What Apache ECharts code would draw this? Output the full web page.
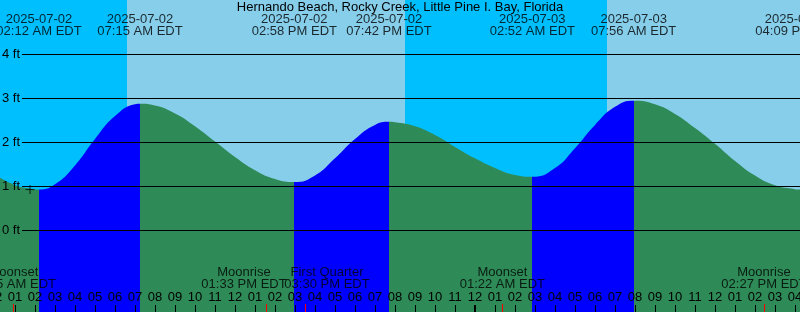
<!DOCTYPE html>
<html><head><meta charset="utf-8">
<script src="https://cdn.jsdelivr.net/npm/echarts@6/dist/echarts.min.js"></script>
<style>html,body{margin:0;padding:0;background:#fff}#c{width:800px;height:312px}</style>
</head><body><div id="c"></div>
<script>
// ---------- data ----------
const chartTitle = 'Hernando Beach, Rocky Creek, Little Pine I. Bay, Florida';
// hours since 2025-07-02 00:00 EDT, tide height (ft)
const tideHours = [0, 1, 2, 2.2, 3, 4, 5, 6, 7, 7.25, 8, 9, 10, 11, 12, 13, 14, 14.967, 16, 17, 18, 19, 19.7, 20, 21, 22, 23, 24, 25, 26, 26.867, 28, 29, 30, 31, 31.933, 33, 34, 35, 36, 37, 38, 39, 40, 40.15, 40.25];
const tideFeet  = [1.27, 1.03, 0.94, 0.93, 1.05, 1.48, 2.08, 2.60, 2.87, 2.88, 2.84, 2.66, 2.37, 2.02, 1.67, 1.37, 1.17, 1.10, 1.25, 1.64, 2.08, 2.40, 2.47, 2.46, 2.37, 2.17, 1.90, 1.64, 1.42, 1.26, 1.22, 1.42, 1.87, 2.40, 2.81, 2.95, 2.87, 2.65, 2.33, 1.97, 1.58, 1.25, 1.03, 0.94, 0.93, 0.93];
// tide extremes (low, high, low, ...)
const tideEventDates = ['2025-07-02', '2025-07-02', '2025-07-02', '2025-07-02', '2025-07-03', '2025-07-03', '2025-07-03'];
const tideEventTimes = ['02:12 AM', '07:15 AM', '02:58 PM', '07:42 PM', '02:52 AM', '07:56 AM', '04:09 PM'];
const tideEventDay   = [0, 0, 0, 0, 1, 1, 1];
// sunrise / sunset (daylight periods)
const sunTimes = ['06:36 AM', '08:30 PM', '06:36 AM'];
const sunDay   = [0, 0, 1];
// moon events
const moonNames = ['Moonset', 'Moonrise', 'First Quarter', 'Moonset', 'Moonrise'];
const moonTimes = ['12:55 AM', '01:33 PM', '03:30 PM', '01:22 AM', '02:27 PM'];
const moonDay   = [0, 0, 0, 1, 1];
const moonLabelShift = [0, -22, 22, 0, 0];
// axes
const yTickFeet = [0, 1, 2, 3, 4];
const nowMark = [1.75, 0.93];
const tz = 'EDT';

// ---------- layout ----------
const FONT = '"Liberation Sans", Arial, sans-serif';
const Y0 = 230.5, PPF = 44;           // pixel of 0 ft, pixels per foot
const Y_MIN = -2, Y_MAX = Y0 / PPF;
const GRID_H = Y0 - Y_MIN * PPF;
const X_LEFT = -5, PPH = 20;          // pixel of hour 0, pixels per hour
const X_MAX = (800 - X_LEFT) / PPH;
const pxToFt = y => (Y0 - y) / PPF;
const C_NIGHT = '#00BFFF', C_DAY = '#87CEEB', C_FALL = '#2E8B57', C_RISE = '#0000FF';

function toHour(t, day) {
  const m = t.match(/(\d+):(\d+)\s*(AM|PM)/);
  let h = (+m[1]) % 12;
  if (m[3] === 'PM') h += 12;
  return day * 24 + h + (+m[2]) / 60;
}
const evH = tideEventTimes.map((t, i) => toHour(t, tideEventDay[i]));
const sunH = sunTimes.map((t, i) => toHour(t, sunDay[i]));
const moonH = moonTimes.map((t, i) => toHour(t, moonDay[i]));

// rising pieces: low -> next high
const pieces = [];
for (let i = 0; i + 1 < evH.length; i += 2) pieces.push({ gte: evH[i], lt: evH[i + 1], color: C_RISE });

// day/night bands
const bands = [];
let prev = 0, night = true;
sunH.forEach(h => { bands.push([{ xAxis: prev, itemStyle: { color: night ? C_NIGHT : C_DAY } }, { xAxis: h }]); prev = h; night = !night; });
bands.push([{ xAxis: prev, itemStyle: { color: night ? C_NIGHT : C_DAY } }, { xAxis: X_MAX }]);

const txt = { color: '#000', fontFamily: FONT, fontSize: 13, lineHeight: 12 };

const option = {
  animation: false,
  backgroundColor: '#fff',
  title: { text: chartTitle, left: 'center', top: 1, padding: 0,
    textStyle: { color: '#000', fontFamily: FONT, fontSize: 13, fontWeight: 'normal', lineHeight: 13 } },
  grid: { left: X_LEFT, right: 0, top: 0, height: GRID_H, containLabel: false, outerBoundsMode: 'none' },
  xAxis: {
    type: 'value', min: 0, max: X_MAX, interval: 1, z: 10,
    axisLine: { show: false, onZero: false }, splitLine: { show: false },
    axisTick: { show: true, inside: true, length: GRID_H - 305, lineStyle: { color: '#000', width: 1 } },
    axisLabel: { show: true, inside: true, margin: 15, color: '#000', fontFamily: FONT, fontSize: 13, lineHeight: 13,
      formatter: v => { if (Math.abs(v - Math.round(v)) > 1e-6) return ''; const h = ((Math.round(v) % 12) + 11) % 12 + 1; return (h < 10 ? '0' : '') + h; } }
  },
  yAxis: { type: 'value', min: Y_MIN, max: Y_MAX, show: false },
  visualMap: { show: false, type: 'piecewise', seriesIndex: 1, dimension: 0, pieces: pieces, outOfRange: { color: C_FALL } },
  series: [
    { // background day / night
      type: 'line', data: [[0, Y_MIN]], symbol: 'none', lineStyle: { opacity: 0 }, silent: true, z: 0,
      markArea: { silent: true, z: 0, data: bands }
    },
    { // tide curve
      type: 'line', data: tideHours.map((h, i) => [h, tideFeet[i]]), smooth: 0.5, symbol: 'none', silent: true, z: 2,
      lineStyle: { width: 0, opacity: 0 }, areaStyle: { opacity: 1, origin: 'start' }
    },
    { // grid lines with ft labels
      type: 'line', data: [[0, Y_MIN]], symbol: 'none', lineStyle: { opacity: 0 }, silent: true, z: 5,
      markLine: { silent: true, symbol: ['none', 'none'], z: 5,
        lineStyle: { color: '#000', width: 1, type: 'solid' },
        label: { show: true, position: 'start', distance: 2, color: '#000', fontFamily: FONT, fontSize: 13 },
        emphasis: { disabled: true },
        data: yTickFeet.map(v => [{ coord: [(22 - X_LEFT) / PPH, v], label: { formatter: v + ' ft' } }, { coord: [X_MAX, v] }]) }
    },
    { // moon event ticks and midnight tick
      type: 'line', data: [[0, Y_MIN]], symbol: 'none', lineStyle: { opacity: 0 }, silent: true, z: 6,
      markLine: { silent: true, symbol: ['none', 'none'], z: 11, label: { show: false }, emphasis: { disabled: true },
        data: moonH.map(h => [{ coord: [h, Y_MIN], lineStyle: { color: '#FF0000', width: 1, type: 'solid' } }, { coord: [h, pxToFt(304)] }])
          .concat([[{ coord: [24, Y_MIN], lineStyle: { color: '#000', width: 2, type: 'solid' } }, { coord: [24, pxToFt(305)] }]]) }
    },
    { // tide event labels
      type: 'scatter', symbolSize: 1, itemStyle: { color: 'transparent' }, silent: true, z: 7,
      label: Object.assign({ show: true, position: 'inside', align: 'center', verticalAlign: 'middle' }, txt),
      data: evH.map((h, i) => ({ value: [h, pxToFt(25.5)], label: { formatter: tideEventDates[i] + '\n' + tideEventTimes[i] + ' ' + tz } }))
    },
    { // moon event labels
      type: 'scatter', symbolSize: 1, itemStyle: { color: 'transparent' }, silent: true, z: 7,
      label: Object.assign({ show: true, position: 'inside', align: 'center', verticalAlign: 'middle' }, txt),
      data: moonH.map((h, i) => ({ value: [h, pxToFt(278.5)], label: { offset: [moonLabelShift[i], 0], formatter: moonNames[i] + '\n' + moonTimes[i] + ' ' + tz } }))
    },
    { // "now" cross
      type: 'scatter', symbol: 'rect', silent: true, z: 8, itemStyle: { color: '#000' },
      data: [{ value: nowMark, symbolSize: [9, 1] }, { value: nowMark, symbolSize: [1, 9] }]
    }
  ]
};
const chart = echarts.init(document.getElementById('c'), null, { renderer: 'canvas' });
chart.setOption(option);
</script></body></html>
